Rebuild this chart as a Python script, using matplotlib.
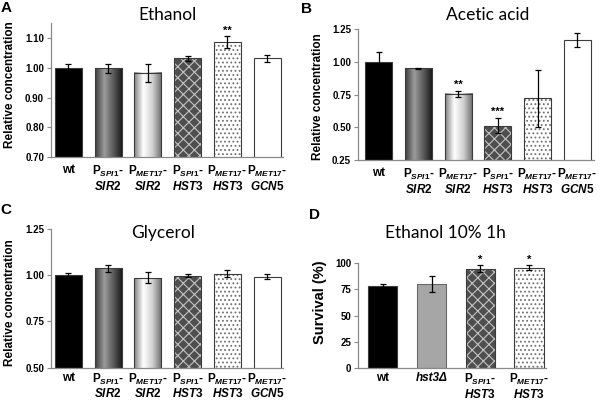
import numpy as np
import matplotlib
matplotlib.use("Agg")
import matplotlib.pyplot as plt
from matplotlib.colors import LinearSegmentedColormap

plt.rcParams["font.family"] = ["Liberation Sans", "DejaVu Sans"]
plt.rcParams["mathtext.fontset"] = "custom"
plt.rcParams["mathtext.rm"] = "Liberation Sans:bold"
plt.rcParams["mathtext.bf"] = "Liberation Sans:bold"
plt.rcParams["mathtext.it"] = "Liberation Sans:italic:bold"
plt.rcParams["hatch.linewidth"] = 0.8

# strains shown in panels A-C
strains = [
    "wt",
    "P$_{\\mathit{SPI1}}$-\n$\\mathit{SIR2}$",
    "P$_{\\mathit{MET17}}$-\n$\\mathit{SIR2}$",
    "P$_{\\mathit{SPI1}}$-\n$\\mathit{HST3}$",
    "P$_{\\mathit{MET17}}$-\n$\\mathit{HST3}$",
    "P$_{\\mathit{MET17}}$-\n$\\mathit{GCN5}$",
]
styles = ["black", "grad_dark", "grad_light", "weave", "dots", "white"]

ethanol_vals = [1.000, 0.998, 0.983, 1.031, 1.086, 1.031]
ethanol_errs = [0.011, 0.015, 0.031, 0.009, 0.019, 0.013]
ethanol_sig = ["", "", "", "", "**", ""]

acetic_vals = [1.000, 0.950, 0.758, 0.513, 0.722, 1.169]
acetic_errs = [0.075, 0.004, 0.023, 0.058, 0.218, 0.053]
acetic_sig = ["", "", "**", "***", "", ""]

glycerol_vals = [1.000, 1.037, 0.986, 0.998, 1.009, 0.991]
glycerol_errs = [0.012, 0.017, 0.030, 0.009, 0.020, 0.014]
glycerol_sig = ["", "", "", "", "", ""]

# panel D
survival_strains = [
    "wt",
    "hst3\u0394",
    "P$_{\\mathit{SPI1}}$-\n$\\mathit{HST3}$",
    "P$_{\\mathit{MET17}}$-\n$\\mathit{HST3}$",
]
survival_styles = ["black", "gray", "weave", "dots"]
survival_vals = [78.5, 80.0, 94.6, 95.9]
survival_errs = [1.5, 7.8, 3.3, 2.0]
survival_sig = ["", "", "*", "*"]

EDGE = "#3c3c3c"
SPINE = "#8a8a8a"


def gradient_bar(ax, i, v, width, ybottom, stops):
    cmap = LinearSegmentedColormap.from_list("g", stops)
    grad = np.linspace(0, 1, 128).reshape(1, -1)
    ax.imshow(grad, extent=[i - width / 2, i + width / 2, ybottom, v], aspect="auto",
              cmap=cmap, zorder=2, interpolation="bilinear")


def draw_panel(ax, labels, vals, errs, sig, kinds, width, ylim, yticks, fmt, pad=5):
    x = np.arange(len(vals))
    for i, (v, kind) in enumerate(zip(vals, kinds)):
        if kind == "black":
            ax.bar(i, v, width, color="black", edgecolor=EDGE, linewidth=0.8, zorder=2)
        elif kind == "gray":
            ax.bar(i, v, width, color="#a6a6a6", edgecolor="#6a6a6a", linewidth=0.8, zorder=2)
        elif kind == "white":
            ax.bar(i, v, width, color="white", edgecolor=EDGE, linewidth=0.8, zorder=2)
        elif kind == "grad_dark":
            gradient_bar(ax, i, v, width, ylim[0], ["#3a3a3a", "#9c9c9c", "#5a5a5a", "#141414"])
            ax.bar(i, v, width, fill=False, edgecolor=EDGE, linewidth=0.8, zorder=3)
        elif kind == "grad_light":
            gradient_bar(ax, i, v, width, ylim[0], ["#808080", "#ffffff", "#d0d0d0", "#6a6a6a"])
            ax.bar(i, v, width, fill=False, edgecolor=EDGE, linewidth=0.8, zorder=3)
        elif kind == "weave":
            ax.bar(i, v, width, color="#4e4e4e", edgecolor="#c4c4c4", hatch="xxx",
                   linewidth=0, zorder=2)
            ax.bar(i, v, width, fill=False, edgecolor=EDGE, linewidth=0.8, zorder=3)
        elif kind == "dots":
            ax.bar(i, v, width, color="white", edgecolor="#707070", hatch="....",
                   linewidth=0, zorder=2)
            ax.bar(i, v, width, fill=False, edgecolor=EDGE, linewidth=0.8, zorder=3)

    ax.errorbar(x, vals, yerr=errs, fmt="none", ecolor="black", elinewidth=0.9,
                capsize=2, capthick=0.9, zorder=4)
    for i, s in enumerate(sig):
        if s:
            ax.annotate(s, (i, vals[i] + errs[i]), xytext=(0, 2), textcoords="offset points",
                        ha="center", va="baseline", fontsize=8, fontweight="bold")

    ax.set_ylim(*ylim)
    ax.set_yticks(yticks)
    ax.set_yticklabels([fmt.format(t) for t in yticks], fontsize=7, fontweight="bold")
    ax.set_xticks(x)
    ax.set_xticklabels(labels, fontsize=8.5, fontweight="bold", linespacing=1.05)
    ax.tick_params(axis="x", length=0, pad=pad)
    ax.tick_params(axis="y", length=3, width=0.8, color=SPINE, pad=2)
    for side in ["top", "right"]:
        ax.spines[side].set_visible(False)
    for side in ["left", "bottom"]:
        ax.spines[side].set_color(SPINE)
        ax.spines[side].set_linewidth(0.9)


fig = plt.figure(figsize=(6, 4), dpi=100)

ax_a = fig.add_axes([0.085, 0.607, 0.3867, 0.3355])
draw_panel(ax_a, strains, ethanol_vals, ethanol_errs, ethanol_sig, styles, 0.68,
           (0.70, 1.15), [0.70, 0.80, 0.90, 1.00, 1.10], "{:.2f}")
ax_a.set_xlim(-0.44, 5.4)

ax_b = fig.add_axes([0.5967, 0.600, 0.3933, 0.3268])
draw_panel(ax_b, strains, acetic_vals, acetic_errs, acetic_sig, styles, 0.68,
           (0.25, 1.25), [0.25, 0.50, 0.75, 1.00, 1.25], "{:.2f}")
ax_b.set_xlim(-0.52, 5.42)

ax_c = fig.add_axes([0.085, 0.0808, 0.3867, 0.3467])
draw_panel(ax_c, strains, glycerol_vals, glycerol_errs, glycerol_sig, styles, 0.68,
           (0.50, 1.25), [0.50, 0.75, 1.00, 1.25], "{:.2f}", pad=3)
ax_c.set_xlim(-0.44, 5.4)

ax_d = fig.add_axes([0.5967, 0.080, 0.3133, 0.2618])
draw_panel(ax_d, survival_strains, survival_vals, survival_errs, survival_sig,
           survival_styles, 0.6, (0, 100), [0, 25, 50, 75, 100], "{:.0f}", pad=3)
ax_d.set_xlim(-0.51, 3.35)
ax_d.get_xticklabels()[1].set_fontstyle("italic")

# titles
title_kw = dict(family=["Lato", "DejaVu Sans"], fontsize=12.5, ha="center", va="center")
fig.text(167 / 600, 1 - 15 / 400, "Ethanol", **title_kw)
fig.text(488 / 600, 1 - 15 / 400, "Acetic acid", **title_kw)
fig.text(163 / 600, 1 - 233 / 400, "Glycerol", **title_kw)
fig.text(445 / 600, 1 - 233 / 400, "Ethanol 10% 1h", **title_kw)

# y labels
ylab_kw = dict(rotation=90, ha="center", va="center", fontweight="bold")
fig.text(10 / 600, 1 - 85 / 400, "Relative concentration", fontsize=8.5, **ylab_kw)
fig.text(318 / 600, 1 - 97 / 400, "Relative concentration", fontsize=8.5, **ylab_kw)
fig.text(10 / 600, 1 - 303 / 400, "Relative concentration", fontsize=8.5, **ylab_kw)
fig.text(320 / 600, 1 - 302 / 400, "Survival (%)", fontsize=10.5, **ylab_kw)

# panel letters
letter_kw = dict(fontsize=11, fontweight="bold", ha="center", va="center")
fig.text(6 / 600, 1 - 8 / 400, "A", **letter_kw)
fig.text(306 / 600, 1 - 9 / 400, "B", **letter_kw)
fig.text(6 / 600, 1 - 210 / 400, "C", **letter_kw)
fig.text(315 / 600, 1 - 215 / 400, "D", **letter_kw)

fig.savefig("out.png", dpi=100)
